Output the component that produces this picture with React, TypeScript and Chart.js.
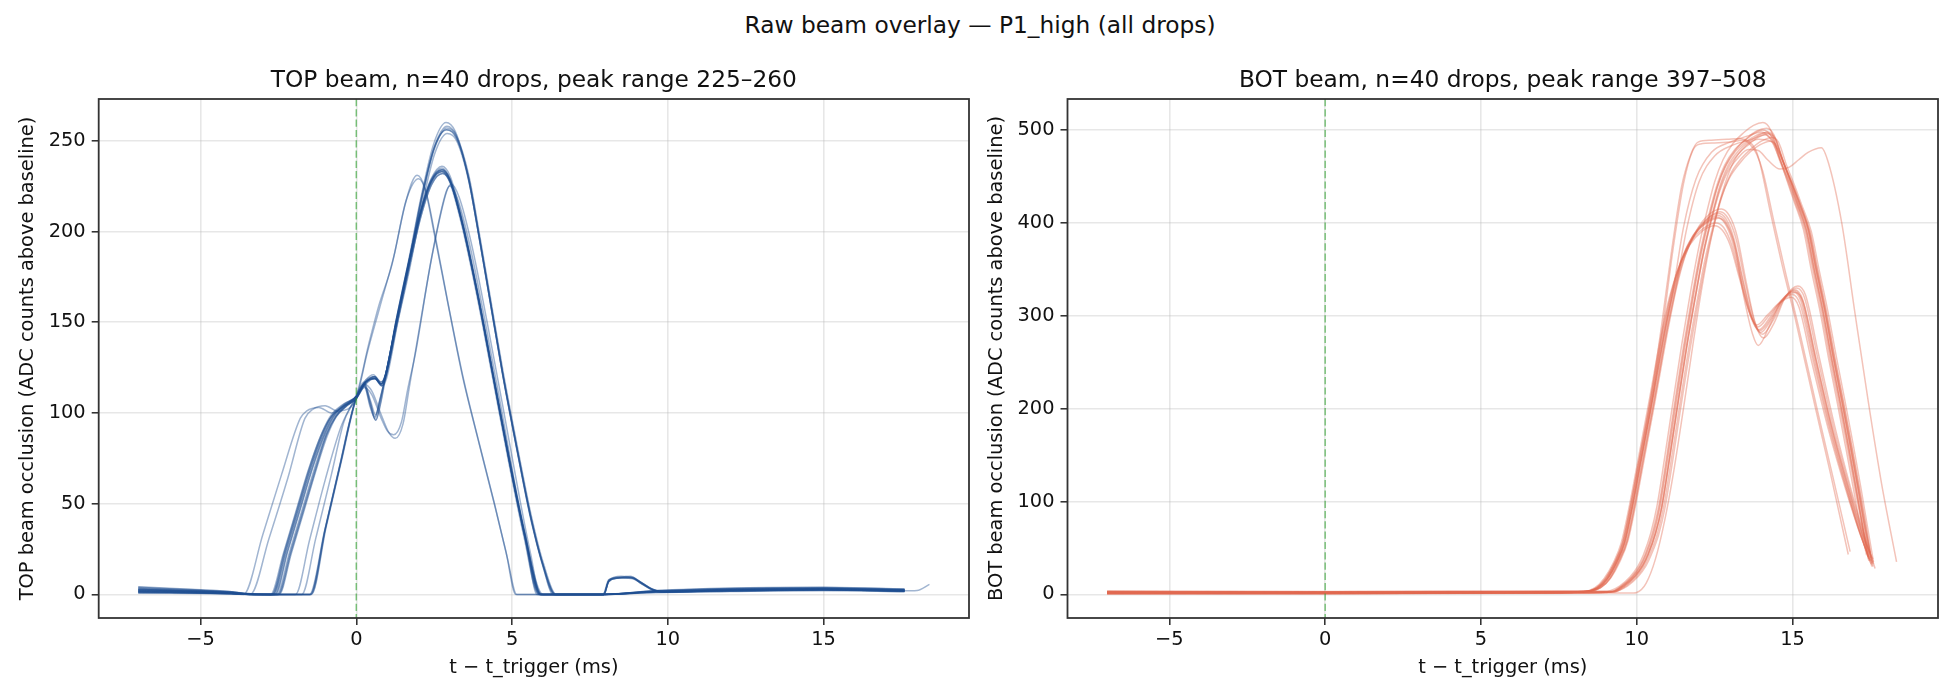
import React, { useEffect, useRef } from 'react';
import { Chart, registerables } from 'chart.js';

Chart.register(...registerables);

type Pt = [number, number];

// ---------- shared axis setup ----------
const X_MIN = -8.27;
const X_MAX = 19.67;
const X_TICKS = [-5, 0, 5, 10, 15];
const TOP_Y_TICKS = [0, 50, 100, 150, 200, 250];
const BOT_Y_TICKS = [0, 100, 200, 300, 400, 500];
const TOP_Y_RANGE: Pt = [-13, 273];
const BOT_Y_RANGE: Pt = [-25.4, 533.4];

// ---------- TOP beam drops (t in ms, ADC counts above baseline) ----------
// early risers, peak near 2 ms
const TOP_E1: Pt[] = [[-7,2.8],[-6,2.2],[-5,1.6],[-4.2,0.9],[-3.62,0],[-3.0,33],[-2.4,66],[-1.8,97],[-1.6,101],[-1.2,103],[-0.8,100],[-0.4,104],[0,110],[0.4,138],[0.72,159],[1.15,182],[1.58,216],[1.95,231],[2.2,224],[2.5,199],[2.9,164],[3.4,121],[3.9,86],[4.4,52],[4.8,24],[5.12,0],[7.9,0],[9.6,1.4],[12,2.2],[15,2.6],[17.6,1.8]];
const TOP_E2: Pt[] = [[-7,1.5],[-6,1.2],[-5,0.9],[-4,0.5],[-3.4,0],[-2.8,31],[-2.2,64],[-1.65,97],[-1.4,102],[-1.0,104],[-0.6,101],[-0.2,103],[0,108],[0.35,133],[0.75,158],[1.2,186],[1.62,218],[2.0,229],[2.25,221],[2.55,196],[2.95,160],[3.45,118],[3.95,83],[4.45,49],[4.85,20],[5.15,0],[7.9,0],[9.6,1.1],[12,1.9],[15,2.2],[17.6,2.4]];
// drops with a dip after the trigger
const TOP_D1: Pt[] = [[-7,2.0],[-6,1.5],[-5,1.1],[-4,0.6],[-3.3,0],[-1.95,0],[-1.5,30],[-1.0,63],[-0.5,92],[-0.2,103],[0,109],[0.25,116],[0.5,112],[0.8,99],[1.05,89],[1.25,86],[1.5,94],[1.7,114],[1.92,136],[2.46,189],[2.9,222],[3.05,226],[3.3,219],[3.7,193],[4.2,150],[4.7,104],[5.2,57],[5.6,22],[5.9,0],[7.9,0],[9.6,1.6],[12,2.5],[15,2.9],[17.6,2.1]];
const TOP_D2: Pt[] = [[-7,1.2],[-6,1.0],[-5,0.8],[-4,0.4],[-3.2,0],[-1.75,0],[-1.3,31],[-0.8,66],[-0.4,95],[-0.15,104],[0,108],[0.25,114],[0.5,110],[0.8,97],[1.0,90],[1.2,88],[1.45,95],[1.65,113],[1.9,133],[2.4,184],[2.85,220],[3.0,225],[3.25,218],[3.65,192],[4.15,149],[4.65,103],[5.15,55],[5.5,24],[5.8,0],[7.9,0],[9.6,1.3],[12,2.0],[15,2.4],[17.6,1.6]];
// main group, high peak near 2.9 ms
const TOP_M1A: Pt[] = [[-7,3.2],[-6,2.6],[-5,2.0],[-4,1.2],[-3.3,0.2],[-2.72,0],[-2.3,24],[-1.9,47],[-1.5,70],[-1.1,89],[-0.8,99],[-0.4,105],[0,109],[0.3,117],[0.6,120],[0.8,116],[0.95,121],[1.3,150],[1.7,182],[2.1,217],[2.5,245],[2.9,257],[3.2,253],[3.6,229],[3.95,196],[4.3,161],[4.7,121],[5.2,76],[5.6,42],[6.0,15],[6.35,0],[7.95,0],[8.1,7],[8.4,9],[8.8,10],[9.1,7],[9.5,3],[9.8,1.6],[12,2.8],[15,3.2],[17.6,2.4]];
const TOP_M1B: Pt[] = [[-7,2.2],[-6,1.9],[-5,1.5],[-4,0.9],[-3.2,0],[-2.6,0],[-2.2,24],[-1.8,47],[-1.4,70],[-1.0,89],[-0.7,99],[-0.35,105],[0,109],[0.3,118],[0.55,121],[0.78,117],[0.92,120],[1.28,151],[1.68,184],[2.08,219],[2.48,248],[2.88,260],[3.18,255],[3.58,231],[3.93,198],[4.28,163],[4.68,123],[5.18,78],[5.58,44],[5.98,17],[6.4,0],[7.95,0],[8.12,8],[8.5,10],[8.9,9],[9.2,6],[9.55,2.5],[9.9,1.4],[12,2.3],[15,2.9],[17.6,2.0]];
const TOP_M1C: Pt[] = [[-7,1.0],[-6,0.9],[-5,0.8],[-4,0.4],[-3.1,0],[-2.5,0],[-2.1,23],[-1.7,46],[-1.3,69],[-0.95,88],[-0.65,98],[-0.3,104],[0,108],[0.3,116],[0.6,119],[0.82,115],[0.97,119],[1.32,149],[1.72,180],[2.12,215],[2.52,243],[2.92,254],[3.22,250],[3.62,227],[3.97,194],[4.32,159],[4.72,119],[5.22,74],[5.62,40],[6.02,14],[6.3,0],[7.9,0],[9.6,1.8],[12,3.1],[15,3.5],[17.6,2.6]];
const TOP_M1D: Pt[] = [[-7,4.2],[-6,3.4],[-5,2.5],[-4,1.5],[-3.4,0.3],[-2.68,0],[-2.26,24],[-1.86,47],[-1.46,70],[-1.06,89],[-0.76,99],[-0.38,105],[0,109],[0.3,117],[0.58,120],[0.8,116],[0.94,121],[1.3,151],[1.7,183],[2.1,218],[2.5,246],[2.9,256],[3.2,252],[3.6,230],[3.95,197],[4.3,162],[4.7,122],[5.2,77],[5.6,43],[6.0,16],[6.37,0],[7.9,0],[9.6,2.1],[12,3.6],[15,4.0],[17.6,3.0]];
const TOP_M1L1: Pt[] = [[-7,1.8],[-6,1.4],[-5,1.1],[-4,0.6],[-3.4,0],[-1.47,0],[-1.0,36],[-0.5,73],[-0.2,96],[0,108],[0.25,116],[0.45,106],[0.6,98],[0.75,107],[0.92,119],[1.3,151],[1.7,184],[2.1,219],[2.5,246],[2.9,256],[3.2,252],[3.6,230],[3.95,197],[4.3,162],[4.7,122],[5.2,77],[5.6,43],[6.0,16],[6.38,0],[7.92,0],[8.1,8],[8.45,9.5],[8.85,9.5],[9.15,6.5],[9.5,2.8],[9.85,1.5],[12,2.6],[15,3.0],[17.6,2.2]];
const TOP_M1L2: Pt[] = [[-7,2.6],[-6,2.1],[-5,1.7],[-4,1.0],[-3.5,0],[-1.45,0],[-0.98,37],[-0.48,74],[-0.18,97],[0,109],[0.25,117],[0.45,107],[0.62,99],[0.77,108],[0.93,120],[1.31,152],[1.71,185],[2.11,220],[2.51,247],[2.91,258],[3.21,253],[3.61,231],[3.96,198],[4.31,163],[4.71,123],[5.21,78],[5.61,44],[6.01,17],[6.42,0],[7.9,0],[9.6,1.5],[12,2.4],[15,3.3],[17.6,2.8]];
// main group, lower peak near 2.75 ms
const TOP_M2A: Pt[] = [[-7,2.9],[-6,2.4],[-5,1.8],[-4,1.1],[-3.3,0],[-2.7,0],[-2.3,23],[-1.9,46],[-1.5,69],[-1.1,88],[-0.8,98],[-0.4,104],[0,109],[0.3,117],[0.6,119],[0.8,116],[0.95,122],[1.3,152],[1.7,184],[2.05,210],[2.4,228],[2.75,235],[3.0,229],[3.4,205],[3.9,165],[4.4,120],[4.9,75],[5.4,33],[5.9,0],[7.95,0],[8.1,7],[8.4,9],[8.8,9.5],[9.1,7],[9.5,3],[9.8,1.5],[12,2.5],[15,2.8],[17.6,2.0]];
const TOP_M2B: Pt[] = [[-7,2.3],[-6,2.0],[-5,1.6],[-4,0.9],[-3.2,0],[-2.62,0],[-2.22,23],[-1.82,46],[-1.42,69],[-1.02,88],[-0.72,98],[-0.36,104],[0,109],[0.3,118],[0.58,120],[0.79,116],[0.94,121],[1.28,151],[1.68,183],[2.03,209],[2.38,227],[2.73,233],[2.98,228],[3.38,204],[3.88,164],[4.38,119],[4.88,74],[5.38,32],[5.85,0],[7.9,0],[9.6,1.7],[12,2.2],[15,3.0],[17.6,2.5]];
const TOP_M2C: Pt[] = [[-7,1.6],[-6,1.3],[-5,1.0],[-4,0.6],[-3.1,0],[-2.55,0],[-2.15,23],[-1.75,46],[-1.35,69],[-0.98,88],[-0.68,98],[-0.33,104],[0,108],[0.3,116],[0.6,119],[0.82,115],[0.96,120],[1.32,150],[1.72,182],[2.07,208],[2.42,226],[2.77,232],[3.02,227],[3.42,203],[3.92,163],[4.42,118],[4.92,73],[5.42,31],[5.95,0],[7.95,0],[8.12,8],[8.45,9],[8.85,9],[9.15,6],[9.5,2.5],[9.85,1.3],[12,2.0],[15,2.6],[17.6,1.9]];
const TOP_M2D: Pt[] = [[-7,3.5],[-6,2.8],[-5,2.2],[-4,1.3],[-3.4,0.2],[-2.75,0],[-2.35,22],[-1.95,45],[-1.55,68],[-1.15,87],[-0.85,97],[-0.45,103],[0,109],[0.3,117],[0.6,120],[0.8,117],[0.95,122],[1.3,153],[1.7,185],[2.05,211],[2.4,229],[2.75,236],[3.0,231],[3.4,207],[3.9,167],[4.4,122],[4.9,77],[5.4,35],[5.92,0],[7.9,0],[9.6,1.9],[12,3.0],[15,3.4],[17.6,2.3]];
const TOP_M2E: Pt[] = [[-7,1.1],[-6,1.0],[-5,0.7],[-4,0.3],[-3.0,0],[-2.48,0],[-2.08,23],[-1.68,46],[-1.3,68],[-0.94,87],[-0.64,98],[-0.3,104],[0,108],[0.3,117],[0.58,119],[0.8,116],[0.95,121],[1.3,151],[1.7,183],[2.05,209],[2.4,227],[2.75,234],[3.0,229],[3.4,205],[3.9,165],[4.4,120],[4.9,75],[5.4,34],[6.0,0],[7.95,0],[8.1,7.5],[8.5,9],[8.9,8.5],[9.2,5.5],[9.55,2.2],[9.9,1.2],[12,1.8],[15,2.5],[17.6,1.7]];
const TOP_M2F: Pt[] = [[-7,3.9],[-6,3.1],[-5,2.4],[-4,1.5],[-3.5,0.3],[-2.66,0],[-2.26,23],[-1.86,46],[-1.46,69],[-1.06,88],[-0.76,98],[-0.38,104],[0,109],[0.3,117],[0.6,119],[0.81,116],[0.95,121],[1.29,151],[1.69,183],[2.04,209],[2.39,228],[2.74,234],[2.99,229],[3.39,205],[3.89,165],[4.39,120],[4.89,75],[5.39,33],[5.87,0],[7.9,0],[9.6,2.0],[12,3.3],[15,3.8],[17.6,2.9]];
const TOP_M2G: Pt[] = [[-7,0.6],[-6,0.6],[-5,0.5],[-4,0.2],[-3.0,0],[-2.52,0],[-2.12,23],[-1.72,46],[-1.32,69],[-0.96,88],[-0.66,98],[-0.32,104],[0,108],[0.3,117],[0.59,119],[0.81,115],[0.96,121],[1.31,151],[1.71,183],[2.06,209],[2.41,227],[2.76,233],[3.01,228],[3.41,204],[3.91,164],[4.41,119],[4.91,74],[5.41,33],[5.93,0],[7.9,0],[9.6,1.0],[12,1.6],[15,2.1],[17.6,1.4]];
const TOP_M2L1: Pt[] = [[-7,2.0],[-6,1.7],[-5,1.3],[-4,0.7],[-3.3,0],[-1.5,0],[-1.02,35],[-0.52,72],[-0.22,95],[0,108],[0.25,115],[0.45,104],[0.6,97],[0.75,106],[0.92,119],[1.3,151],[1.7,183],[2.05,209],[2.4,227],[2.75,233],[3.0,228],[3.4,204],[3.9,164],[4.4,119],[4.9,74],[5.4,33],[5.88,0],[7.9,0],[9.6,1.4],[12,2.7],[15,3.1],[17.6,2.2]];
const TOP_M2L2: Pt[] = [[-7,2.7],[-6,2.2],[-5,1.7],[-4,1.0],[-3.4,0],[-1.48,0],[-1.0,36],[-0.5,73],[-0.2,96],[0,109],[0.25,116],[0.45,105],[0.62,96],[0.77,105],[0.93,120],[1.31,152],[1.71,184],[2.06,210],[2.41,228],[2.76,234],[3.01,229],[3.41,205],[3.91,165],[4.41,120],[4.91,75],[5.41,34],[5.9,0],[7.92,0],[8.1,7],[8.45,9.5],[8.85,9],[9.15,6],[9.5,2.6],[9.85,1.4],[12,2.3],[15,2.7],[17.6,2.0],[18.0,2.2],[18.4,5.5]];
const TOP_M2L3: Pt[] = [[-7,1.4],[-6,1.2],[-5,0.9],[-4,0.5],[-3.2,0],[-1.44,0],[-0.97,37],[-0.47,74],[-0.17,97],[0,108],[0.25,115],[0.45,103],[0.63,96],[0.78,105],[0.94,119],[1.32,150],[1.72,182],[2.07,208],[2.42,226],[2.77,232],[3.02,227],[3.42,203],[3.92,163],[4.42,118],[4.92,73],[5.42,32],[5.95,0],[7.9,0],[9.6,1.6],[12,2.1],[15,2.5],[17.6,1.8]];

const TOP_TRACES: Pt[][] = [
  TOP_E1, TOP_E2, TOP_D1, TOP_D2,
  TOP_M1A, TOP_M1B, TOP_M1C, TOP_M1D, TOP_M1L1, TOP_M1L2,
  TOP_M2A, TOP_M2B, TOP_M2C, TOP_M2D, TOP_M2E, TOP_M2F, TOP_M2G,
  TOP_M2L1, TOP_M2L2, TOP_M2L3,
];

// ---------- BOT beam drops ----------
// double-humped drops (first peak ~12.6 ms, dip ~14 ms, second hump ~15 ms)
const BOT_A1: Pt[] = [[-7,1.6],[0,1.4],[7.5,2.0],[8.4,3],[8.75,7],[9.05,17],[9.35,35],[9.6,56],[9.85,95],[10.1,140],[10.48,208],[10.9,285],[11.15,325],[11.45,360],[11.8,385],[12.2,401],[12.6,408],[12.85,402],[13.1,382],[13.4,338],[13.7,298],[13.95,284],[14.3,297],[14.65,316],[15.05,327],[15.3,317],[15.72,254],[16.25,178],[16.8,110],[17.2,64],[17.55,30]];
const BOT_A2: Pt[] = [[-7,2.4],[0,2.1],[7.5,2.6],[8.5,3.5],[8.83,7],[9.13,17],[9.43,36],[9.68,57],[9.93,96],[10.18,141],[10.56,209],[10.98,287],[11.23,327],[11.53,363],[11.88,388],[12.28,405],[12.68,412],[12.93,405],[13.18,384],[13.48,336],[13.78,294],[14.03,280],[14.38,295],[14.73,318],[15.13,330],[15.38,320],[15.8,256],[16.33,178],[16.88,109],[17.28,64],[17.6,33]];
const BOT_A3: Pt[] = [[-7,0.9],[0,1.0],[7.5,1.6],[8.35,3],[8.7,7],[8.99,17],[9.29,34],[9.54,55],[9.79,94],[10.04,138],[10.42,207],[10.84,284],[11.09,322],[11.39,356],[11.74,380],[12.14,394],[12.54,400],[12.79,395],[13.04,377],[13.34,338],[13.64,302],[13.89,288],[14.24,300],[14.59,314],[14.99,323],[15.24,313],[15.66,252],[16.19,178],[16.74,112],[17.14,68],[17.5,36]];
const BOT_A4: Pt[] = [[-7,3.0],[0,2.6],[7.5,3.0],[8.55,4],[8.87,8],[9.17,18],[9.47,36],[9.72,58],[9.97,97],[10.22,142],[10.6,210],[11.02,288],[11.27,329],[11.57,366],[11.92,392],[12.32,409],[12.72,415],[12.97,408],[13.22,386],[13.52,335],[13.82,290],[14.07,276],[14.42,293],[14.77,320],[15.17,332],[15.42,322],[15.84,258],[16.37,179],[16.92,108],[17.32,62],[17.65,28]];
const BOT_A5: Pt[] = [[-7,1.2],[0,1.1],[7.5,1.8],[8.3,3],[8.65,7],[8.95,17],[9.25,34],[9.5,55],[9.75,93],[10.0,137],[10.38,205],[10.8,282],[11.05,320],[11.35,352],[11.7,376],[12.1,391],[12.5,397],[12.75,392],[13.0,376],[13.3,340],[13.6,305],[13.85,290],[14.2,301],[14.55,313],[14.95,320],[15.2,310],[15.62,250],[16.15,178],[16.7,114],[17.1,72],[17.45,40]];
const BOT_A6: Pt[] = [[-7,2.0],[0,1.8],[7.5,2.3],[8.45,3.5],[8.79,7],[9.09,17],[9.39,35],[9.64,56],[9.89,95],[10.14,140],[10.52,208],[10.94,286],[11.19,326],[11.49,361],[11.84,386],[12.24,400],[12.64,405],[12.89,398],[13.14,376],[13.44,320],[13.72,280],[13.9,268],[14.3,292],[14.69,317],[15.09,325],[15.34,315],[15.76,253],[16.29,177],[16.84,110],[17.24,65],[17.55,34]];
const BOT_A7: Pt[] = [[-7,2.7],[0,2.4],[7.5,2.8],[8.42,3.5],[8.77,7],[9.07,17],[9.37,35],[9.62,56],[9.87,95],[10.12,140],[10.5,208],[10.92,286],[11.17,326],[11.47,362],[11.82,387],[12.22,403],[12.62,410],[12.87,404],[13.12,383],[13.42,337],[13.72,296],[13.97,282],[14.32,296],[14.67,317],[15.07,328],[15.32,318],[15.74,255],[16.27,179],[16.82,111],[17.22,66],[17.58,38]];
const BOT_A8: Pt[] = [[-7,3.3],[0,2.9],[7.5,3.2],[8.38,3.5],[8.72,7],[9.02,17],[9.32,35],[9.57,56],[9.82,95],[10.07,140],[10.45,208],[10.87,285],[11.12,325],[11.42,359],[11.77,384],[12.17,399],[12.57,406],[12.82,400],[13.07,380],[13.37,337],[13.67,298],[13.92,285],[14.27,298],[14.62,316],[15.02,326],[15.27,316],[15.69,253],[16.22,178],[16.77,111],[17.17,66],[17.52,33]];
// early flat-topped drops
const BOT_C1: Pt[] = [[-7,1.3],[0,1.2],[7.5,1.9],[8.35,3],[8.7,7],[9.0,17],[9.3,35],[9.55,56],[9.8,95],[10.05,140],[10.45,210],[10.8,290],[11.1,365],[11.44,439],[11.75,475],[11.97,487],[12.4,489],[12.9,490],[13.3,491],[13.58,488],[13.8,480],[13.95,465],[14.3,410],[14.7,350],[15.08,298],[15.72,203],[16.2,133],[16.79,43]];
const BOT_C2: Pt[] = [[-7,2.2],[0,2.0],[7.5,2.5],[8.4,3.5],[8.75,7],[9.05,17],[9.35,35],[9.6,56],[9.85,95],[10.1,140],[10.5,211],[10.85,292],[11.15,368],[11.5,442],[11.8,478],[12.05,485],[12.5,486],[13.0,487],[13.4,489],[13.65,484],[13.85,474],[14.05,455],[14.4,402],[14.8,343],[15.18,290],[15.8,198],[16.3,126],[16.85,46]];
// main single-peak group (~14 ms)
const BOT_B1: Pt[] = [[-7,1.8],[0,1.6],[8,2.2],[9.1,2.5],[9.3,3],[9.6,9],[9.94,19],[10.2,31],[10.37,43],[10.6,65],[10.8,93],[11.05,145],[11.3,200],[11.6,265],[11.9,323],[12.15,368],[12.38,401],[12.65,435],[12.92,458],[13.25,474],[13.58,484],[13.9,492],[14.22,496],[14.45,490],[14.7,466],[14.97,442],[15.2,420],[15.5,392],[15.75,350],[16.04,304],[16.3,256],[16.58,208],[16.85,160],[17.11,112],[17.3,75],[17.49,37]];
const BOT_B2: Pt[] = [[-7,1.1],[0,1.0],[8,1.7],[9.0,2.2],[9.2,3],[9.5,9],[9.84,19],[10.1,31],[10.27,43],[10.5,66],[10.7,94],[10.95,146],[11.2,202],[11.5,267],[11.8,326],[12.05,371],[12.28,404],[12.55,438],[12.82,462],[13.15,479],[13.48,489],[13.8,497],[14.05,500],[14.32,493],[14.58,468],[14.87,443],[15.1,421],[15.4,392],[15.65,350],[15.94,303],[16.2,255],[16.48,207],[16.75,160],[17.01,113],[17.22,76],[17.42,40]];
const BOT_B3: Pt[] = [[-7,2.6],[0,2.3],[8,2.8],[9.2,3],[9.4,4],[9.7,9],[10.04,19],[10.3,31],[10.47,43],[10.7,64],[10.9,92],[11.15,143],[11.4,198],[11.7,262],[12.0,320],[12.25,364],[12.48,397],[12.75,430],[13.02,453],[13.35,469],[13.68,480],[14.0,488],[14.32,492],[14.55,487],[14.8,463],[15.07,440],[15.3,419],[15.6,391],[15.85,350],[16.14,304],[16.4,257],[16.68,209],[16.95,161],[17.21,112],[17.4,74],[17.6,35]];
const BOT_B4: Pt[] = [[-7,3.1],[0,2.8],[8,3.2],[8.95,3],[9.15,4],[9.45,9],[9.79,19],[10.05,31],[10.22,43],[10.45,66],[10.65,95],[10.9,148],[11.15,204],[11.45,270],[11.75,330],[12.0,375],[12.23,409],[12.5,444],[12.77,468],[13.1,486],[13.43,497],[13.75,505],[14.05,508],[14.3,500],[14.55,474],[14.82,446],[15.05,423],[15.35,393],[15.6,350],[15.9,302],[16.16,254],[16.44,206],[16.71,158],[16.97,111],[17.17,74],[17.38,42]];
const BOT_B5: Pt[] = [[-7,0.8],[0,0.9],[8,1.5],[9.15,2.3],[9.35,3],[9.65,9],[9.99,19],[10.25,31],[10.42,43],[10.65,64],[10.85,92],[11.1,143],[11.35,197],[11.65,261],[11.95,318],[12.2,362],[12.43,394],[12.7,426],[12.97,448],[13.3,464],[13.63,476],[13.95,484],[14.27,488],[14.5,483],[14.75,462],[15.02,440],[15.25,419],[15.55,391],[15.8,350],[16.09,304],[16.35,256],[16.63,208],[16.9,160],[17.16,112],[17.35,75],[17.55,32]];
const BOT_B6: Pt[] = [[-7,2.1],[0,1.9],[8,2.5],[9.05,2.6],[9.25,3],[9.55,9],[9.89,19],[10.15,31],[10.32,43],[10.55,65],[10.75,94],[11.0,146],[11.25,201],[11.55,267],[11.85,327],[12.1,372],[12.33,405],[12.6,440],[12.87,463],[13.2,480],[13.53,491],[13.85,499],[14.17,502],[14.4,495],[14.65,470],[14.92,445],[15.15,422],[15.45,393],[15.7,351],[15.99,305],[16.25,257],[16.53,209],[16.8,161],[17.06,113],[17.25,76],[17.45,44]];
const BOT_B7: Pt[] = [[-7,1.5],[0,1.3],[7.5,2.0],[8.4,3],[8.76,7],[9.06,17],[9.36,35],[9.61,56],[9.86,95],[10.11,140],[10.49,208],[10.91,286],[11.16,326],[11.5,395],[11.9,447],[12.4,476],[13.0,487],[13.6,494],[14.0,498],[14.3,490],[14.6,468],[14.9,444],[15.15,421],[15.45,392],[15.7,350],[15.99,303],[16.25,255],[16.53,207],[16.8,159],[17.06,111],[17.25,74],[17.45,36]];
const BOT_B8: Pt[] = [[-7,2.9],[0,2.5],[7.5,2.9],[8.5,3.5],[8.84,7],[9.14,17],[9.44,36],[9.69,57],[9.94,96],[10.19,141],[10.57,209],[10.99,287],[11.24,327],[11.6,393],[12.0,444],[12.5,472],[13.1,484],[13.7,490],[14.1,495],[14.4,487],[14.7,465],[15.0,442],[15.25,420],[15.55,391],[15.8,349],[16.09,302],[16.35,255],[16.63,207],[16.9,159],[17.16,110],[17.36,72],[17.58,30]];
const BOT_B9: Pt[] = [[-7,3.5],[0,3.2],[8,3.6],[9.1,3.4],[9.3,4],[9.6,10],[9.94,20],[10.2,32],[10.37,44],[10.6,66],[10.8,94],[11.05,147],[11.3,203],[11.6,268],[11.9,326],[12.15,371],[12.38,404],[12.65,438],[12.92,461],[13.25,477],[13.58,487],[13.9,494],[14.2,498],[14.45,491],[14.7,467],[14.97,443],[15.2,421],[15.5,393],[15.75,351],[16.04,305],[16.3,257],[16.58,209],[16.85,161],[17.11,113],[17.3,76],[17.52,39]];
const BOT_B10: Pt[] = [[-7,0.5],[0,0.6],[8,1.3],[9.0,2],[9.22,3],[9.52,9],[9.86,19],[10.12,31],[10.29,43],[10.52,65],[10.72,93],[10.97,145],[11.22,201],[11.52,266],[11.82,325],[12.07,370],[12.3,403],[12.57,437],[12.84,460],[13.17,477],[13.5,487],[13.82,494],[14.12,497],[14.38,491],[14.62,467],[14.9,443],[15.13,421],[15.43,392],[15.68,350],[15.97,304],[16.23,256],[16.51,208],[16.78,160],[17.04,112],[17.24,75],[17.44,38]];
// late riser and late flat-topped drop
const BOT_L1: Pt[] = [[-7,1.0],[0,1.1],[8,1.6],[9.9,1.5],[10.0,2],[10.3,12],[10.6,38],[10.9,80],[11.2,135],[11.5,200],[11.8,268],[12.1,332],[12.4,385],[12.75,433],[13.1,465],[13.5,483],[13.9,490],[14.3,488],[14.6,474],[14.9,448],[15.2,424],[15.5,394],[15.75,352],[16.04,306],[16.3,258],[16.58,210],[16.85,162],[17.11,114],[17.3,77],[17.5,45]];
const BOT_L2: Pt[] = [[-7,1.9],[0,1.7],[8,2.3],[9.1,2.5],[9.3,3],[9.6,9],[9.94,19],[10.2,31],[10.37,43],[10.6,65],[10.8,93],[11.05,145],[11.3,200],[11.6,265],[11.9,323],[12.15,368],[12.38,401],[12.65,433],[12.92,455],[13.25,470],[13.58,479],[13.9,478],[14.2,468],[14.6,458],[14.9,460],[15.2,468],[15.5,476],[15.93,481],[16.15,465],[16.58,400],[17.0,304],[17.43,208],[17.86,119],[18.34,35]];

const BOT_TRACES: Pt[][] = [
  BOT_A1, BOT_A2, BOT_A3, BOT_A4, BOT_A5, BOT_A6, BOT_A7, BOT_A8,
  BOT_C1, BOT_C2,
  BOT_B1, BOT_B2, BOT_B3, BOT_B4, BOT_B5, BOT_B6, BOT_B7, BOT_B8, BOT_B9, BOT_B10,
  BOT_L1, BOT_L2,
];

// ---------- styling ----------
const FONT = '"DejaVu Sans", "Liberation Sans", sans-serif';
const TEXT = '#111111';
const SPINE = '#333333';
const GRID = 'rgba(176,176,176,0.3)';
const TRIGGER = 'rgba(44,160,44,0.6)';

const fmtTick = (v: number | string) => {
  const n = Number(v);
  return n < 0 ? '\u2212' + Math.abs(n) : String(n);
};

type PanelProps = {
  left: number;
  traces: Pt[][];
  color: string;
  yTicks: number[];
  yRange: Pt;
  title: string;
  yTitle: string;
  axisWidth: number;
  padRight: number;
  yTitlePad: number;
};

function makeDecor(title: string) {
  return {
    id: 'panelDecor',
    afterDatasetsDraw(chart: any) {
      const { ctx, chartArea: a, scales } = chart;
      const x0 = scales.x.getPixelForValue(0);
      ctx.save();
      // trigger marker at t = 0
      ctx.strokeStyle = TRIGGER;
      ctx.lineWidth = 1.5;
      ctx.setLineDash([7.2, 3.1]);
      ctx.beginPath();
      ctx.moveTo(x0, a.top);
      ctx.lineTo(x0, a.bottom);
      ctx.stroke();
      ctx.setLineDash([]);
      // axes frame
      ctx.strokeStyle = SPINE;
      ctx.lineWidth = 1.8;
      ctx.strokeRect(a.left, a.top, a.right - a.left, a.bottom - a.top);
      // panel title
      ctx.fillStyle = TEXT;
      ctx.font = `23.3px ${FONT}`;
      ctx.textAlign = 'center';
      ctx.textBaseline = 'alphabetic';
      ctx.fillText(title, (a.left + a.right) / 2, 87.3);
      ctx.restore();
    },
  };
}

function Panel(p: PanelProps) {
  const ref = useRef<HTMLCanvasElement>(null);

  useEffect(() => {
    if (!ref.current) return;
    const tickFont = { family: FONT, size: 19.4, lineHeight: 1.2 };
    const chart = new Chart(ref.current, {
      type: 'scatter',
      data: {
        datasets: p.traces.map((tr) => ({
          data: tr.map(([x, y]) => ({ x, y })),
          showLine: true,
          borderColor: p.color,
          backgroundColor: p.color,
          borderWidth: 1.5,
          pointRadius: 0,
          pointHoverRadius: 0,
          cubicInterpolationMode: 'monotone',
          fill: false,
        })),
      },
      options: {
        animation: false,
        responsive: false,
        devicePixelRatio: 1,
        events: [],
        layout: { padding: { left: 0, right: p.padRight, top: 99, bottom: 0 } },
        plugins: {
          legend: { display: false },
          tooltip: { enabled: false },
          title: { display: false },
        },
        scales: {
          x: {
            type: 'linear',
            min: X_MIN,
            max: X_MAX,
            afterBuildTicks: (ax: any) => {
              ax.ticks = X_TICKS.map((value) => ({ value }));
            },
            afterFit: (s: any) => {
              s.height = 82;
            },
            border: { display: false },
            grid: {
              color: GRID,
              lineWidth: 1.55,
              drawTicks: true,
              tickLength: 7,
              tickColor: SPINE,
              tickWidth: 1.6,
            },
            ticks: {
              color: TEXT,
              font: tickFont,
              padding: 3.5,
              maxRotation: 0,
              autoSkip: false,
              callback: fmtTick,
            },
            title: {
              display: true,
              text: 't \u2212 t_trigger (ms)',
              color: TEXT,
              font: tickFont,
              padding: { top: 0, bottom: 20 },
            },
          },
          y: {
            type: 'linear',
            min: p.yRange[0],
            max: p.yRange[1],
            afterBuildTicks: (ax: any) => {
              ax.ticks = p.yTicks.map((value) => ({ value }));
            },
            afterFit: (s: any) => {
              s.width = p.axisWidth;
            },
            border: { display: false },
            grid: {
              color: GRID,
              lineWidth: 1.55,
              drawTicks: true,
              tickLength: 7,
              tickColor: SPINE,
              tickWidth: 1.6,
            },
            ticks: {
              color: TEXT,
              font: tickFont,
              padding: 6,
              autoSkip: false,
              callback: fmtTick,
            },
            title: {
              display: true,
              text: p.yTitle,
              color: TEXT,
              font: tickFont,
              padding: { top: p.yTitlePad, bottom: 0 },
            },
          },
        },
      },
      plugins: [makeDecor(p.title)],
    } as any);
    return () => chart.destroy();
  }, []);

  return (
    <canvas
      ref={ref}
      width={980}
      height={700}
      style={{ position: 'absolute', left: p.left, top: 0, width: 980, height: 700 }}
    />
  );
}

export default function App() {
  return (
    <div
      style={{
        position: 'absolute',
        left: 0,
        top: 0,
        width: 1960,
        height: 700,
        background: '#ffffff',
        overflow: 'hidden',
      }}
    >
      <div
        style={{
          position: 'absolute',
          left: 0,
          top: 12.6,
          width: 1960,
          textAlign: 'center',
          fontFamily: FONT,
          fontSize: 23.3,
          lineHeight: '23.3px',
          color: TEXT,
          whiteSpace: 'nowrap',
        }}
      >
        Raw beam overlay — P1_high (all drops)
      </div>
      <Panel
        left={0}
        traces={TOP_TRACES}
        color="rgba(31,78,145,0.42)"
        yTicks={TOP_Y_TICKS}
        yRange={TOP_Y_RANGE}
        title="TOP beam, n=40 drops, peak range 225–260"
        yTitle="TOP beam occlusion (ADC counts above baseline)"
        axisWidth={98.7}
        padRight={11}
        yTitlePad={15.9}
      />
      <Panel
        left={980}
        traces={BOT_TRACES}
        color="rgba(226,104,80,0.4)"
        yTicks={BOT_Y_TICKS}
        yRange={BOT_Y_RANGE}
        title="BOT beam, n=40 drops, peak range 397–508"
        yTitle="BOT beam occlusion (ADC counts above baseline)"
        axisWidth={87.5}
        padRight={22}
        yTitlePad={5}
      />
    </div>
  );
}
